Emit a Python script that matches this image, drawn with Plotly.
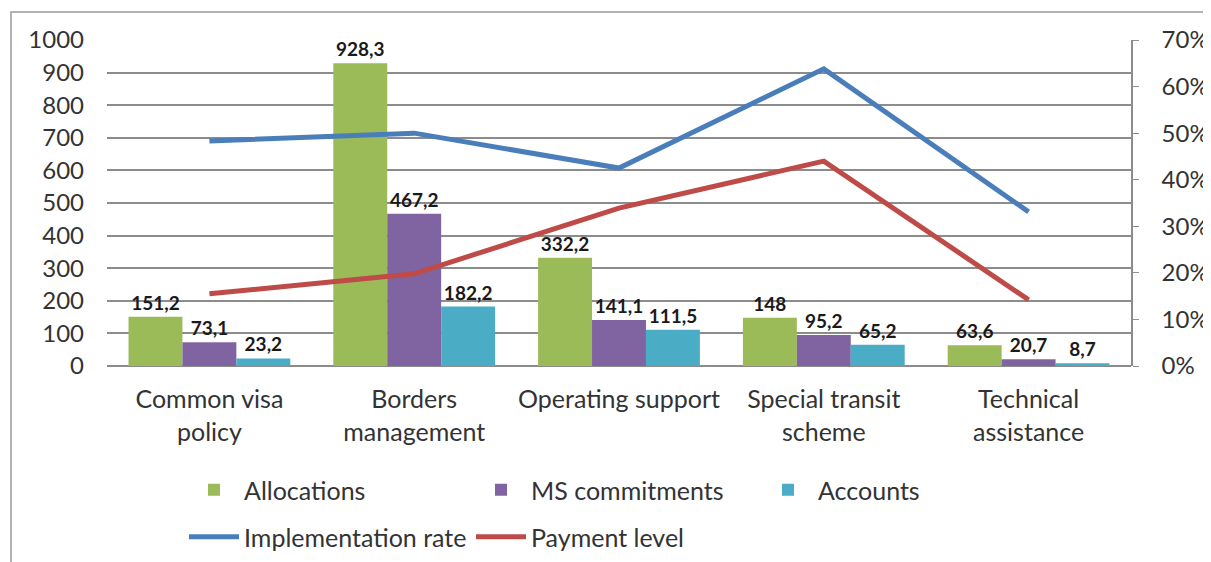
import plotly.graph_objects as go

categories = ["Common visa<br>policy", "Borders<br>management", "Operating support",
              "Special transit<br>scheme", "Technical<br>assistance"]
allocations = [151.2, 928.3, 332.2, 148, 63.6]
ms_commitments = [73.1, 467.2, 141.1, 95.2, 20.7]
accounts = [23.2, 182.2, 111.5, 65.2, 8.7]
implementation_rate = [0.483, 0.500, 0.425, 0.638, 0.331]
payment_level = [0.155, 0.198, 0.339, 0.440, 0.142]

left_ticks = list(range(0, 1001, 100))
right_ticks = [i / 10 for i in range(0, 8)]
right_tick_labels = [f"{int(round(t*100))}%" for t in right_ticks]

FONT = "Lato, sans-serif"
GRID = "#8c8c8c"
TXT = "#333333"


def fmt(v):
    s = f"{v:g}"
    return s.replace(".", ",")


fig = go.Figure()
bar_specs = [("Allocations", allocations, "#9BBB59"),
             ("MS commitments", ms_commitments, "#8064A2"),
             ("Accounts", accounts, "#4BACC6")]
for name, vals, col in bar_specs:
    fig.add_trace(go.Bar(
        x=categories, y=vals, name=name, marker=dict(color=col, line=dict(width=0)),
        text=[fmt(v) for v in vals], textposition="outside", cliponaxis=False,
        textfont=dict(family=FONT, size=19, color="#1a1a1a", weight="bold"),
        legend="legend",
    ))

fig.add_trace(go.Scatter(x=categories, y=implementation_rate, name="Implementation rate",
                         mode="lines", line=dict(color="#4A7EBB", width=5), yaxis="y2",
                         legend="legend2"))
fig.add_trace(go.Scatter(x=categories, y=payment_level, name="Payment level",
                         mode="lines", line=dict(color="#BE4B48", width=5), yaxis="y2",
                         legend="legend2"))

# page body has an 8px margin, so the figure is offset by 8px
OFF = 8
W, H = 1211 - OFF, 562 - OFF
px_left, px_right, px_top, px_bottom = 107, 1131, 40, 366  # plot area in screenshot px
L = px_left - OFF
T = px_top - OFF
R = W - (px_right - OFF)
B = H - (px_bottom - OFF)
pw, ph = W - L - R, H - T - B


def fx(px):
    return (px - px_left) / pw


def fy(py):
    return (px_bottom - py) / ph


leg_common = dict(orientation="h", xanchor="left", yanchor="middle",
                  entrywidth=222, entrywidthmode="pixels", itemwidth=50,
                  font=dict(family=FONT, size=25, color=TXT), bgcolor="rgba(0,0,0,0)")

fig.update_layout(
    width=W, height=H,
    margin=dict(l=L, r=R, t=T, b=B, pad=0, autoexpand=False),
    paper_bgcolor="white", plot_bgcolor="white",
    font=dict(family=FONT, size=24, color=TXT),
    barmode="group", bargap=0.21, bargroupgap=0,
    showlegend=True,
    legend=dict(x=fx(184), y=fy(490), **leg_common),
    legend2=dict(x=fx(184), y=fy(537), **leg_common),
    xaxis=dict(showgrid=False, showline=False, ticks="", ticklabelstandoff=16,
               tickfont=dict(family=FONT, size=25, color=TXT)),
    yaxis=dict(range=[0, 1000], tickvals=left_ticks, showgrid=True, gridcolor=GRID,
               gridwidth=1.5, zeroline=True, zerolinecolor=GRID, zerolinewidth=1.5,
               showline=False, ticks="", ticklabelstandoff=22,
               tickfont=dict(family=FONT, size=24, color=TXT)),
    yaxis2=dict(range=[0, 0.7], tickvals=right_ticks, ticktext=right_tick_labels,
                overlaying="y", side="right", showgrid=False, zeroline=False,
                showline=True, linecolor=GRID, linewidth=1.5, ticks="outside",
                ticklen=6, tickcolor=GRID, ticklabelstandoff=18,
                tickfont=dict(family=FONT, size=24, color=TXT)),
    shapes=[dict(type="rect", xref="paper", yref="paper",
                 x0=fx(11), x1=fx(1225), y0=fy(580), y1=fy(12),
                 line=dict(color="#9a9a9a", width=1.5), fillcolor="rgba(0,0,0,0)",
                 layer="below")],
)

fig.write_html("out.html")
